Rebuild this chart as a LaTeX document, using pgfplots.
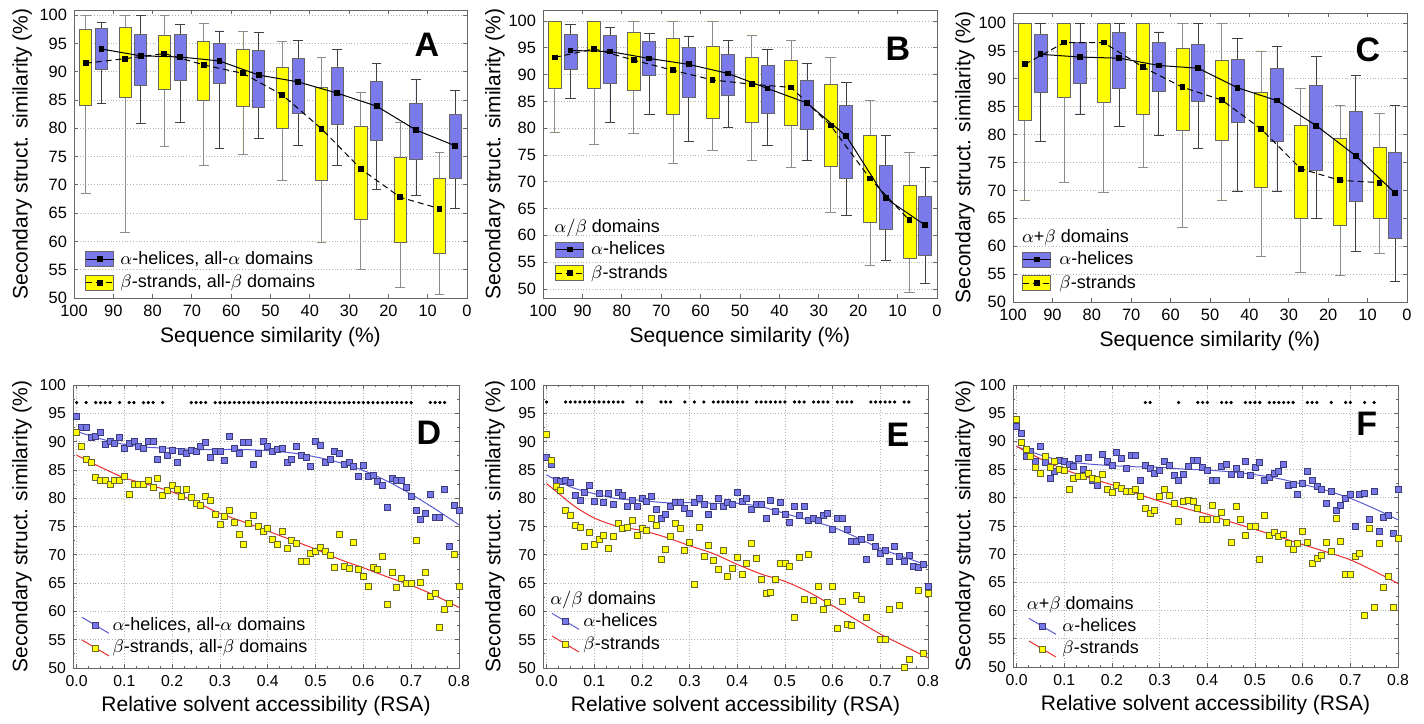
\documentclass[border=0pt]{standalone}
\usepackage{fontspec}
\setmainfont{Liberation Sans}
\usepackage{pgfplots}
\pgfplotsset{compat=1.18}
\usepackage{pgfplotstable}
\usepgfplotslibrary{statistics}

\definecolor{boxblue}{RGB}{122,122,235}
\definecolor{boxyel}{RGB}{255,255,0}
\definecolor{ptblue}{RGB}{118,118,232}
\definecolor{ptbedge}{RGB}{60,60,120}
\definecolor{ptyedge}{RGB}{105,105,50}
\definecolor{lnblue}{RGB}{90,90,215}
\definecolor{lnred}{RGB}{235,45,45}

\newcommand{\fs}[1]{\fontsize{#1}{#1}\selectfont}
\newcommand{\bw}{3.1}
% yellow (beta) and blue (alpha) boxes: position, low whisker, q1, q3, high whisker
\newcommand{\ybx}[5]{\addplot[forget plot, draw=black!60, fill=boxyel,
  boxplot/draw direction=y,
  boxplot/every whisker/.style={draw=black!45},
  boxplot prepared={draw position=#1, box extend=\bw,
    lower whisker=#2, lower quartile=#3, median=#3,
    upper quartile=#4, upper whisker=#5}] coordinates {};}
\newcommand{\bbx}[5]{\addplot[forget plot, draw=black!60, fill=boxblue,
  boxplot/draw direction=y,
  boxplot/every whisker/.style={draw=black!75},
  boxplot prepared={draw position=#1, box extend=\bw,
    lower whisker=#2, lower quartile=#3, median=#3,
    upper quartile=#4, upper whisker=#5}] coordinates {};}

\pgfplotsset{
  base/.style={
    scale only axis,
    axis line style={black!60},
    every tick/.style={black!60},
    major tick length=2pt, minor tick length=1.2pt,
    /pgf/number format/assume math mode=true,
    label style={font=\fs{10.5}},
    legend style={draw=none, fill=none, font=\fs{9}, inner sep=0pt,
      nodes={inner sep=1pt}, row sep=1.8pt},
    legend cell align=left,
    grid style={densely dotted, black!30},
  },
  toppanel/.style={base,
    xmin=0, xmax=100, x dir=reverse, xtick={0,10,...,100},
    ytick={50,55,...,100}, ymajorgrids,
    tick label style={font=\fs{8.2}},
    xlabel={Sequence similarity (\%)},
    ylabel={Secondary struct. similarity (\%)},
    xlabel style={at={(axis description cs:0.5,-0.135)}, anchor=center},
  },
  botpanel/.style={base,
    xmin=-0.0075, xmax=0.8, ymin=50, ymax=100,
    xtick={0,0.1,0.2,0.3,0.4,0.5,0.6,0.7,0.8},
    ytick={50,55,...,100}, minor x tick num=3, minor y tick num=1,
    xmajorgrids, ymajorgrids,
    tick label style={font=\fs{7.9}},
    xticklabel style={/pgf/number format/.cd, fixed, fixed zerofill, precision=1},
    xlabel={Relative solvent accessibility (RSA)},
    ylabel={Secondary struct. similarity (\%)},
    xlabel style={at={(axis description cs:0.5,-0.135)}, anchor=center},
    legend style={row sep=1.3pt},
  },
  aline/.style={black, line width=0.5pt, mark=square*, mark size=1.2pt,
    legend image code/.code={
      \draw[draw=black!60, fill=boxblue, solid] (0pt,-3.75pt) rectangle (14pt,3.75pt);
      \draw[##1, mark repeat=2, mark phase=2] plot coordinates {(0pt,0pt) (7pt,0pt) (14pt,0pt)};}},
  bline/.style={black, line width=0.5pt, dash pattern=on 3pt off 2pt,
    mark=square*, mark size=1.2pt, mark options={solid},
    legend image code/.code={
      \draw[draw=black!60, fill=boxyel, solid] (0pt,-3.75pt) rectangle (14pt,3.75pt);
      \draw[##1, mark repeat=2, mark phase=2] plot coordinates {(0pt,0pt) (7pt,0pt) (14pt,0pt)};}},
  aspots/.style={only marks, mark=square*, mark size=1.5pt,
    mark options={draw=ptbedge, fill=ptblue, line width=0.4pt}},
  bspots/.style={only marks, mark=square*, mark size=1.5pt,
    mark options={draw=ptyedge, fill=boxyel, line width=0.4pt}},
  stars/.style={only marks, mark=*, mark size=0.6pt, black},
  atrend/.style={lnblue, line width=0.5pt, smooth,
    legend image code/.code={
      \draw[lnblue, line width=0.5pt] (0pt,4pt) -- (13.5pt,-4pt);
      \draw[ptbedge, fill=ptblue, line width=0.4pt] (5.25pt,-1.5pt) rectangle (8.25pt,1.5pt);}},
  btrend/.style={lnred, line width=0.5pt, smooth,
    legend image code/.code={
      \draw[lnred, line width=0.5pt] (0pt,4pt) -- (13.5pt,-4pt);
      \draw[ptyedge, fill=boxyel, line width=0.4pt] (5.25pt,-1.5pt) rectangle (8.25pt,1.5pt);}},
}

% scatter data: x, alpha-helices (a), beta-strands (b)
\pgfplotstableread{
x a b
0.00 94.5 91.6
0.01 92.5 89.2
0.02 92.5 86.9
0.03 90.7 86.3
0.04 90.9 83.7
0.05 91.6 83.1
0.06 89.5 83.1
0.07 90.0 82.4
0.08 89.6 83.2
0.09 90.7 83.2
0.10 88.8 83.9
0.11 89.7 80.7
0.12 90.0 82.4
0.13 89.1 82.4
0.14 88.8 82.4
0.15 90.0 83.2
0.16 90.0 81.9
0.17 86.9 83.5
0.18 88.7 80.5
0.19 87.5 81.3
0.20 88.5 82.3
0.21 86.3 81.5
0.22 88.3 80.4
0.23 87.9 81.5
0.24 88.5 80.1
0.25 88.2 79.1
0.26 89.2 78.8
0.27 89.8 80.4
0.28 87.2 79.7
0.29 88.2 77.2
0.30 88.2 75.4
0.31 86.6 76.7
0.32 90.9 77.9
0.33 88.8 75.8
0.34 88.0 73.6
0.35 89.8 71.9
0.36 89.8 75.6
0.37 86.0 77.0
0.38 88.0 75.1
0.39 90.0 74.1
0.40 89.2 74.6
0.41 88.2 72.7
0.42 88.7 71.9
0.43 88.8 74.2
0.44 86.3 71.1
0.45 86.9 72.5
0.46 89.1 72.0
0.47 87.5 68.8
0.48 87.2 68.9
0.49 85.6 70.3
0.50 90.1 70.6
0.51 89.3 71.3
0.52 86.3 70.6
0.53 86.9 69.9
0.54 88.3 67.7
0.55 88.0 73.6
0.56 86.0 68.0
0.57 86.3 67.6
0.58 85.7 72.2
0.59 83.8 67.4
0.60 85.8 66.1
0.61 83.8 64.5
0.62 84.0 67.7
0.63 82.9 67.5
0.64 82.3 69.8
0.65 78.4 61.3
0.66 83.5 66.9
0.67 83.1 64.3
0.68 83.2 65.8
0.69 81.9 64.9
0.70 80.4 64.9
0.71 77.9 72.5
0.72 76.2 65.1
0.73 77.3 66.9
0.74 80.7 62.6
0.75 76.6 63.1
0.76 76.6 57.1
0.77 81.6 60.3
0.78 71.4 61.4
0.79 78.8 70.0
0.80 77.9 64.4
}\tabD

\pgfplotstableread{
x a b
0.00 87.2 91.3
0.01 85.9 86.7
0.02 83.2 82.0
0.03 82.9 81.4
0.04 83.1 77.8
0.05 82.8 77.0
0.06 80.5 75.2
0.07 79.6 74.9
0.08 81.0 71.4
0.09 82.3 74.0
0.10 79.4 71.8
0.11 80.9 72.8
0.12 79.2 73.4
0.13 80.9 71.2
0.14 78.9 73.3
0.15 81.0 75.5
0.16 80.5 74.6
0.17 78.6 74.9
0.18 79.6 76.1
0.19 78.6 73.5
0.20 79.9 74.6
0.21 79.4 74.3
0.22 80.3 76.4
0.23 78.0 75.2
0.24 76.4 69.2
0.25 77.1 70.9
0.26 78.5 73.3
0.27 79.2 75.6
0.28 79.2 74.6
0.29 78.2 70.8
0.30 77.4 72.2
0.31 79.2 64.8
0.32 80.0 74.9
0.33 78.9 69.7
0.34 77.2 71.7
0.35 78.5 69.0
0.36 80.0 67.4
0.37 78.5 70.8
0.38 79.2 66.1
0.39 78.9 67.6
0.40 81.0 69.6
0.41 79.5 66.6
0.42 79.9 68.5
0.43 78.0 72.1
0.44 78.9 69.3
0.45 78.9 65.7
0.46 76.5 63.2
0.47 79.6 63.3
0.48 77.7 65.7
0.49 79.2 68.5
0.50 77.1 68.4
0.51 75.8 68.0
0.52 78.5 59.0
0.53 77.0 69.5
0.54 78.6 62.2
0.55 76.1 70.1
0.56 76.4 61.9
0.57 76.1 64.4
0.58 77.0 60.4
0.59 77.4 61.6
0.60 74.5 64.4
0.61 76.5 57.0
0.62 76.4 61.7
0.63 74.5 57.7
0.64 72.3 57.5
0.65 72.3 62.9
0.66 72.8 62.2
0.67 69.1 59.0
0.68 73.0 nan
0.69 71.4 nan
0.70 70.2 55.1
0.71 70.8 55.1
0.72 68.9 60.4
0.73 71.5 nan
0.74 69.8 61.0
0.75 68.9 50.1
0.76 69.9 51.5
0.77 68.0 nan
0.78 67.8 63.7
0.79 68.3 52.6
0.80 64.4 63.2
}\tabE

\pgfplotstableread{
x a b
0.00 92.7 93.9
0.01 91.5 89.8
0.02 87.4 88.5
0.03 88.3 87.4
0.04 86.5 85.4
0.05 89.2 84.3
0.06 86.2 87.3
0.07 83.4 85.4
0.08 84.6 86.4
0.09 86.7 85.0
0.10 86.5 84.8
0.11 85.9 81.5
0.12 85.5 83.4
0.13 87.0 83.8
0.14 85.0 83.8
0.15 87.1 84.3
0.16 83.1 83.4
0.17 82.2 83.3
0.18 87.7 84.2
0.19 86.4 81.5
0.20 85.7 80.9
0.21 88.0 82.2
0.22 87.0 81.7
0.23 85.3 81.1
0.24 87.6 81.1
0.25 87.6 81.5
0.26 83.1 80.2
0.27 85.8 78.2
0.28 85.2 77.3
0.29 84.3 77.7
0.30 84.9 80.2
0.31 86.4 81.5
0.32 85.8 80.5
0.33 84.0 79.0
0.34 83.0 75.9
0.35 84.1 79.3
0.36 85.5 79.5
0.37 86.7 79.3
0.38 86.7 78.2
0.39 85.4 76.2
0.40 84.9 76.2
0.41 83.1 78.6
0.42 83.1 76.2
0.43 85.5 77.4
0.44 86.0 75.7
0.45 84.1 72.1
0.46 85.3 78.4
0.47 84.1 76.2
0.48 86.4 73.3
0.49 84.0 74.9
0.50 85.4 75.0
0.51 86.3 69.1
0.52 83.1 76.9
0.53 83.7 73.3
0.54 84.3 73.8
0.55 84.7 73.1
0.56 85.9 73.5
0.57 82.2 72.0
0.58 82.4 70.8
0.59 80.6 72.0
0.60 82.5 74.0
0.61 84.7 72.1
0.62 83.1 68.3
0.63 82.1 69.2
0.64 81.5 69.7
0.65 79.0 72.1
0.66 81.2 70.5
0.67 77.8 76.4
0.68 78.6 72.2
0.69 79.9 66.4
0.70 80.6 66.4
0.71 75.0 69.6
0.72 80.6 70.1
0.73 80.8 59.1
0.74 76.2 74.6
0.75 81.1 60.5
0.76 74.0 72.0
0.77 76.6 64.2
0.78 76.8 66.0
0.79 73.7 60.5
0.80 81.5 72.8
}\tabF

\begin{document}
\begin{tikzpicture}
\useasboundingbox (0,0) rectangle (712pt,-361.5pt);

% ---------------- A ----------------
\renewcommand{\bw}{3.1}
\begin{axis}[toppanel, at={(37pt,-5pt)}, anchor=north west, width=196.5pt, height=144pt,
  ymin=50, ymax=100.9,
  ylabel style={at={(axis description cs:-0.132,0.5)}, anchor=center},
  legend style={at={(axis description cs:0.028,0.016)}, anchor=south west, column sep=2pt}]
\ybx{97}{68.5}{84.1}{97.5}{100}
\ybx{87}{61.6}{85.5}{97.8}{100}
\ybx{77}{76.8}{86.8}{96.4}{100}
\ybx{67}{73.5}{84.9}{95.4}{98.5}
\ybx{57}{75.4}{83.9}{93.9}{97.1}
\ybx{47}{70.7}{79.9}{90.8}{95.3}
\ybx{37}{59.9}{70.8}{87.2}{92.5}
\ybx{27}{55.1}{63.9}{80.4}{86.4}
\ybx{17}{51.9}{59.9}{74.9}{81.0}
\ybx{7}{50.7}{57.9}{71.2}{75.8}
\bbx{93}{84.4}{90.4}{97.6}{98.7}
\bbx{83}{80.9}{87.5}{96.6}{100}
\bbx{73}{81.0}{88.5}{96.5}{98.4}
\bbx{63}{76.5}{87.9}{95.0}{97.2}
\bbx{53}{78.2}{83.7}{93.8}{96.9}
\bbx{43}{76.9}{82.6}{92.4}{95.5}
\bbx{33}{73.5}{80.7}{90.8}{93.9}
\bbx{23}{69.2}{77.9}{88.2}{91.5}
\bbx{13}{68.1}{74.5}{84.4}{88.6}
\bbx{3}{65.9}{71.2}{82.5}{86.7}
\addplot[aline] coordinates {(93,94.0)(83,92.8)(73,92.6)(63,91.9)(53,89.4)(43,88.2)(33,86.2)(23,83.9)(13,79.7)(3,76.9)};
\addlegendentry{$\alpha$-helices, all-$\alpha$ domains}
\addplot[bline] coordinates {(97,91.5)(87,92.3)(77,93.2)(67,91.2)(57,89.7)(47,85.9)(37,79.9)(27,72.8)(17,67.8)(7,65.8)};
\addlegendentry{$\beta$-strands, all-$\beta$ domains}
\node[font=\bfseries\fs{17}] at (axis description cs:0.898,0.878) {A};
\end{axis}

% ---------------- B ----------------
\renewcommand{\bw}{3.3}
\begin{axis}[toppanel, at={(271.5pt,-5pt)}, anchor=north west, width=197pt, height=144pt,
  ymin=48.3, ymax=102.05,
  ylabel style={at={(axis description cs:-0.122,0.5)}, anchor=center},
  legend style={at={(axis description cs:0.030,0.05)}, anchor=south west, column sep=2.5pt}]
\ybx{97}{79.3}{87.5}{100}{100}
\ybx{87}{77.0}{87.5}{100}{100}
\ybx{77}{79.0}{87.1}{97.9}{100}
\ybx{67}{73.4}{82.6}{96.8}{100}
\ybx{57}{75.9}{81.8}{95.3}{100}
\ybx{47}{74.0}{81.0}{93.2}{97.4}
\ybx{37}{72.7}{80.5}{92.6}{96.3}
\ybx{27}{64.2}{72.9}{88.1}{93.2}
\ybx{17}{54.4}{62.5}{78.6}{85.1}
\ybx{7}{49.4}{55.7}{69.4}{75.5}
\bbx{93}{85.6}{91.0}{97.5}{99.3}
\bbx{83}{81.1}{88.4}{97.3}{98.8}
\bbx{73}{82.6}{89.9}{96.2}{97.7}
\bbx{63}{77.5}{85.7}{95.1}{97.2}
\bbx{53}{80.1}{86.1}{93.8}{96.3}
\bbx{43}{76.7}{82.7}{91.7}{94.7}
\bbx{33}{74.0}{79.8}{88.9}{92.1}
\bbx{23}{63.7}{70.6}{84.2}{88.6}
\bbx{13}{55.3}{61.1}{73.0}{78.6}
\bbx{3}{51.0}{56.2}{67.3}{72.6}
\addplot[aline] coordinates {(93,94.5)(83,94.3)(73,93.0)(63,91.9)(53,90.2)(43,87.4)(33,84.7)(23,78.5)(13,66.9)(3,61.9)};
\addlegendentry{$\alpha$-helices}
\addplot[bline] coordinates {(97,93.2)(87,94.8)(77,92.7)(67,90.8)(57,89.0)(47,88.2)(37,87.6)(27,80.5)(17,70.6)(7,62.8)};
\addlegendentry{$\beta$-strands}
\node[anchor=west, inner sep=0pt, font=\fs{9}] at (axis description cs:0.028,0.243) {$\alpha/\beta$ domains};
\node[font=\bfseries\fs{17}] at (axis description cs:0.901,0.865) {B};
\end{axis}

% ---------------- C ----------------
\begin{axis}[toppanel, at={(506.5pt,-6.5pt)}, anchor=north west, width=197pt, height=144.5pt,
  ymin=50, ymax=101.8,
  ylabel style={at={(axis description cs:-0.122,0.5)}, anchor=center},
  legend style={at={(axis description cs:0.023,0.029)}, anchor=south west, column sep=3pt}]
\ybx{97}{68.3}{82.5}{100}{100}
\ybx{87}{71.4}{86.6}{100}{100}
\ybx{77}{69.6}{85.7}{100}{100}
\ybx{67}{74.1}{83.7}{100}{100}
\ybx{57}{63.4}{80.7}{95.4}{100}
\ybx{47}{68.3}{79.0}{93.3}{100}
\ybx{37}{58.2}{70.5}{87.6}{95.0}
\ybx{27}{55.3}{64.9}{81.6}{88.3}
\ybx{17}{54.8}{63.8}{79.3}{85.3}
\ybx{7}{58.7}{64.9}{77.7}{83.8}
\bbx{93}{78.8}{87.6}{98.0}{100}
\bbx{83}{83.7}{89.2}{96.5}{100}
\bbx{73}{81.4}{88.3}{98.4}{100}
\bbx{63}{79.9}{87.8}{96.5}{98.4}
\bbx{53}{77.5}{86.0}{96.2}{100}
\bbx{43}{69.9}{82.2}{93.5}{97.2}
\bbx{33}{69.9}{78.8}{91.9}{95.8}
\bbx{23}{64.9}{73.6}{88.8}{94.0}
\bbx{13}{59.1}{68.1}{84.1}{90.6}
\bbx{3}{53.7}{61.4}{76.8}{85.3}
\addplot[aline] coordinates {(93,94.4)(83,93.9)(73,93.7)(63,92.4)(53,91.9)(43,88.4)(33,86.1)(23,81.6)(13,76.2)(3,69.5)};
\addlegendentry{$\alpha$-helices}
\addplot[bline] coordinates {(97,92.6)(87,96.5)(77,96.5)(67,92.1)(57,88.5)(47,86.2)(37,81.0)(27,73.9)(17,71.8)(7,71.4)};
\addlegendentry{$\beta$-strands}
\node[anchor=west, inner sep=0pt, font=\fs{9}] at (axis description cs:0.022,0.221) {$\alpha$+$\beta$ domains};
\node[font=\bfseries\fs{17}] at (axis description cs:0.901,0.872) {C};
\end{axis}

% ---------------- D ----------------
\begin{axis}[botpanel, at={(36.5pt,-192.5pt)}, anchor=north west, width=193pt, height=141.5pt,
  ylabel style={at={(axis description cs:-0.132,0.5)}, anchor=center},
  legend style={at={(axis description cs:0.021,0.034)}, anchor=south west, column sep=0.5pt}]
\addplot[aspots, forget plot] table[x=x, y=a] {\tabD};
\addplot[bspots, forget plot] table[x=x, y=b] {\tabD};
\addplot[stars, forget plot] coordinates {
(0.00,96.9)(0.02,96.9)(0.04,96.9)(0.05,96.9)(0.06,96.9)(0.07,96.9)(0.09,96.9)
(0.11,96.9)(0.12,96.9)(0.14,96.9)(0.15,96.9)(0.16,96.9)(0.18,96.9)
(0.24,96.9)(0.25,96.9)(0.26,96.9)(0.27,96.9)
(0.29,96.9)(0.30,96.9)(0.31,96.9)(0.32,96.9)(0.33,96.9)(0.34,96.9)(0.35,96.9)
(0.36,96.9)(0.37,96.9)(0.38,96.9)(0.39,96.9)(0.40,96.9)(0.41,96.9)(0.42,96.9)
(0.43,96.9)(0.44,96.9)(0.45,96.9)(0.46,96.9)(0.47,96.9)(0.48,96.9)(0.49,96.9)
(0.50,96.9)(0.51,96.9)(0.52,96.9)(0.53,96.9)(0.54,96.9)(0.55,96.9)(0.56,96.9)
(0.57,96.9)(0.58,96.9)(0.59,96.9)(0.60,96.9)(0.61,96.9)(0.62,96.9)(0.63,96.9)
(0.64,96.9)(0.65,96.9)(0.66,96.9)(0.67,96.9)(0.68,96.9)(0.69,96.9)(0.70,96.9)
(0.74,96.9)(0.75,96.9)(0.76,96.9)(0.77,96.9)};
\addplot[atrend] coordinates {(0,91.8)(0.05,90.5)(0.1,89.5)(0.15,89.0)(0.2,88.8)(0.25,88.6)(0.3,88.6)(0.35,88.6)(0.4,88.4)(0.45,88.0)(0.5,87.3)(0.55,86.3)(0.6,84.9)(0.65,83.0)(0.7,80.7)(0.75,78.1)(0.8,75.3)};
\addlegendentry{$\alpha$-helices, all-$\alpha$ domains}
\addplot[btrend] coordinates {(0,87.6)(0.05,85.5)(0.1,83.6)(0.15,82.4)(0.2,81.1)(0.25,79.3)(0.3,77.3)(0.35,75.8)(0.4,74.2)(0.45,72.6)(0.5,71.0)(0.55,69.2)(0.6,67.7)(0.65,66.1)(0.7,64.6)(0.75,62.8)(0.8,60.7)};
\addlegendentry{$\beta$-strands, all-$\beta$ domains}
\node[font=\bfseries\fs{17}] at (axis description cs:0.922,0.830) {D};
\end{axis}

% ---------------- E ----------------
\begin{axis}[botpanel, at={(271.5pt,-192.5pt)}, anchor=north west, width=192.5pt, height=141.5pt,
  ylabel style={at={(axis description cs:-0.125,0.5)}, anchor=center},
  legend style={at={(axis description cs:0.021,0.048)}, anchor=south west, column sep=1pt}]
\addplot[aspots, forget plot] table[x=x, y=a] {\tabE};
\addplot[bspots, forget plot] table[x=x, y=b] {\tabE};
\addplot[stars, forget plot] coordinates {
(0.00,97)(0.04,97)(0.05,97)(0.06,97)(0.07,97)(0.08,97)(0.09,97)(0.10,97)(0.11,97)
(0.12,97)(0.13,97)(0.14,97)(0.15,97)(0.16,97)(0.19,97)(0.20,97)
(0.24,97)(0.25,97)(0.26,97)(0.29,97)(0.31,97)(0.33,97)
(0.35,97)(0.36,97)(0.37,97)(0.38,97)(0.39,97)(0.40,97)(0.41,97)(0.42,97)
(0.44,97)(0.45,97)(0.46,97)(0.47,97)(0.48,97)(0.49,97)(0.50,97)
(0.52,97)(0.53,97)(0.54,97)(0.56,97)(0.57,97)(0.58,97)(0.59,97)
(0.61,97)(0.62,97)(0.63,97)(0.64,97)
(0.68,97)(0.69,97)(0.70,97)(0.71,97)(0.72,97)(0.73,97)(0.75,97)(0.76,97)};
\addplot[atrend] coordinates {(0,84.1)(0.05,82.0)(0.1,80.8)(0.15,79.9)(0.2,79.6)(0.25,79.2)(0.3,79.2)(0.35,79.1)(0.4,79.1)(0.45,78.5)(0.5,77.3)(0.55,76.1)(0.6,74.9)(0.65,73.1)(0.7,71.1)(0.75,69.6)(0.8,68.1)};
\addlegendentry{$\alpha$-helices}
\addplot[btrend] coordinates {(0,82.6)(0.03,80.5)(0.06,78.5)(0.1,76.5)(0.15,75.0)(0.2,74.3)(0.25,73.1)(0.3,71.6)(0.35,70.2)(0.4,68.3)(0.45,66.6)(0.5,65.3)(0.55,63.4)(0.6,61.0)(0.65,58.5)(0.7,56.0)(0.75,53.9)(0.8,51.8)};
\addlegendentry{$\beta$-strands}
\node[anchor=west, inner sep=0pt, font=\fs{9}] at (axis description cs:0.018,0.24) {$\alpha/\beta$ domains};
\node[font=\bfseries\fs{17}] at (axis description cs:0.922,0.823) {E};
\end{axis}

% ---------------- F ----------------
\begin{axis}[botpanel, at={(506.5pt,-192.5pt)}, anchor=north west, width=192.5pt, height=141pt,
  ylabel style={at={(axis description cs:-0.125,0.5)}, anchor=center},
  legend style={at={(axis description cs:0.039,0.027)}, anchor=south west, column sep=2pt}]
\addplot[aspots, forget plot] table[x=x, y=a] {\tabF};
\addplot[bspots, forget plot] table[x=x, y=b] {\tabF};
\addplot[stars, forget plot] coordinates {
(0.27,96.9)(0.28,96.9)(0.34,96.9)(0.38,96.9)(0.39,96.9)(0.40,96.9)
(0.43,96.9)(0.44,96.9)(0.45,96.9)(0.48,96.9)(0.49,96.9)(0.50,96.9)(0.51,96.9)
(0.53,96.9)(0.54,96.9)(0.55,96.9)(0.56,96.9)(0.57,96.9)(0.58,96.9)
(0.61,96.9)(0.62,96.9)(0.63,96.9)(0.66,96.9)(0.69,96.9)(0.70,96.9)
(0.73,96.9)(0.75,96.9)};
\addplot[atrend] coordinates {(0,89.1)(0.05,87.6)(0.1,86.5)(0.15,86.0)(0.2,85.7)(0.25,85.5)(0.3,85.4)(0.35,85.1)(0.4,84.9)(0.45,84.6)(0.5,84.1)(0.55,83.4)(0.6,82.4)(0.65,81.3)(0.7,79.9)(0.75,78.1)(0.8,76.1)};
\addlegendentry{$\alpha$-helices}
\addplot[btrend] coordinates {(0,89.1)(0.05,86.9)(0.1,85.0)(0.15,83.6)(0.2,82.3)(0.25,80.8)(0.3,79.4)(0.35,78.2)(0.4,77.1)(0.45,75.7)(0.5,74.4)(0.55,73.1)(0.6,71.7)(0.65,70.4)(0.7,69.0)(0.75,67.0)(0.8,64.8)};
\addlegendentry{$\beta$-strands}
\node[anchor=west, inner sep=0pt, font=\fs{9}] at (axis description cs:0.035,0.22) {$\alpha$+$\beta$ domains};
\node[font=\bfseries\fs{17}] at (axis description cs:0.919,0.862) {F};
\end{axis}
\end{tikzpicture}
\end{document}
